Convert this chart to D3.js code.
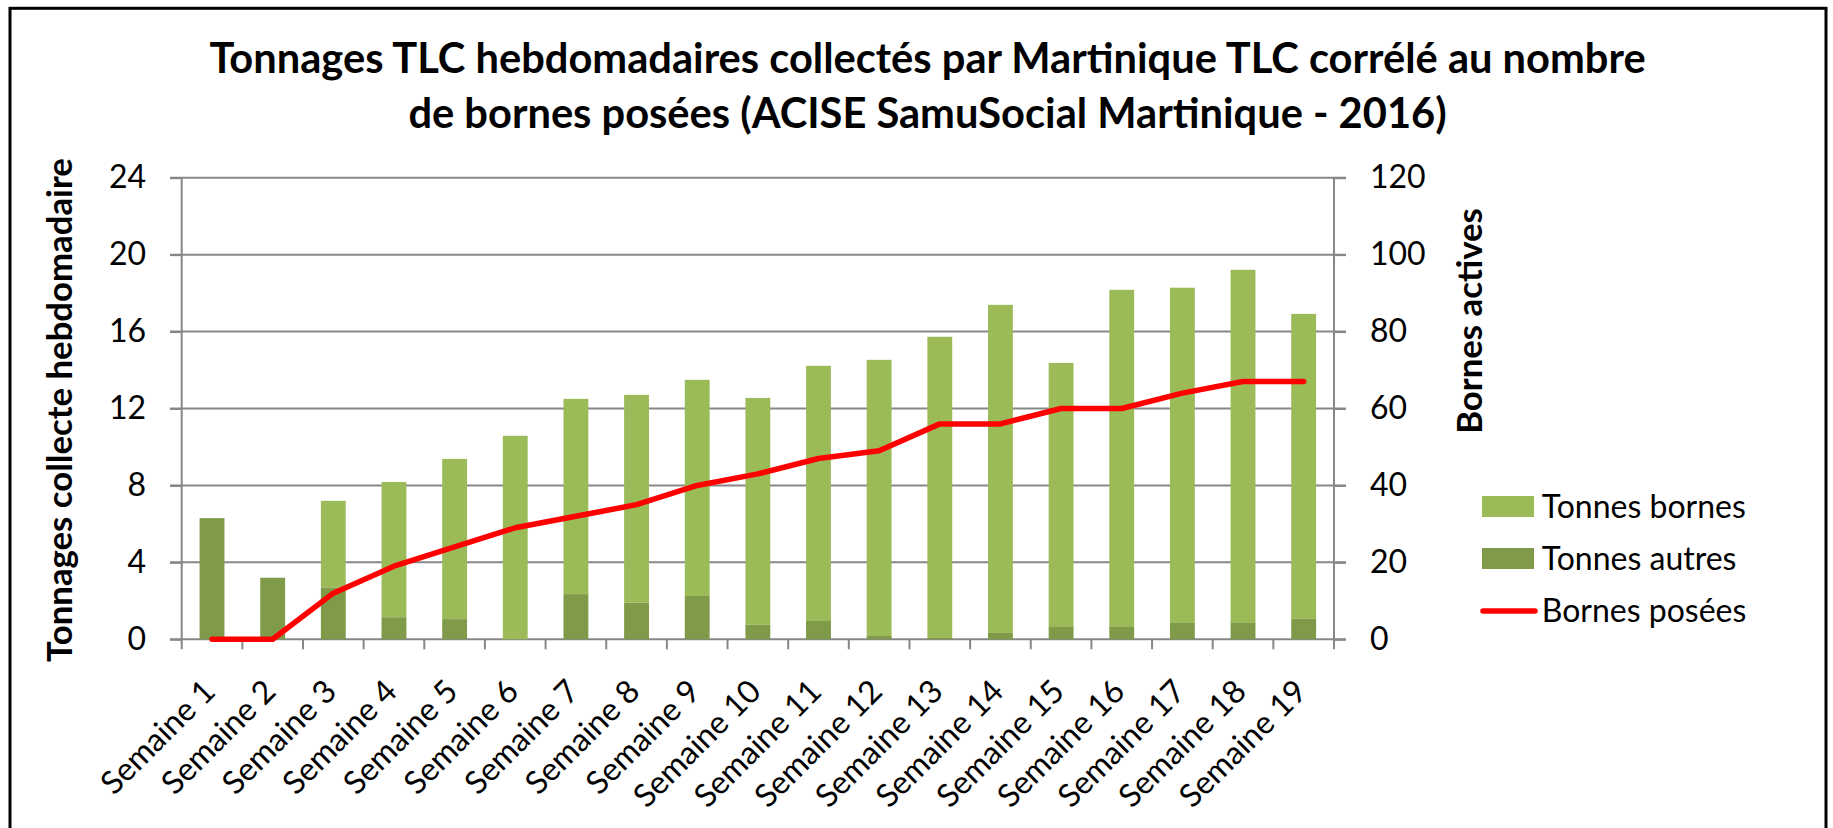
<!DOCTYPE html>
<html>
<head>
<meta charset="utf-8">
<script src="https://cdn.jsdelivr.net/npm/d3@7"></script>
<style>
  body { margin: 0; background: #fff; }
  svg { display: block; font-family: Lato, 'Open Sans', sans-serif; }
</style>
</head>
<body>
<div id="container"></div>
<script>
// data
const weeks = d3.range(1, 20).map(i => `Semaine ${i}`);
const tonnesAutres = [6.3, 3.2, 2.7, 1.15, 1.05, 0, 2.35, 1.9, 2.25, 0.75, 0.95, 0.17, 0.07, 0.33, 0.64, 0.64, 0.85, 0.85, 1.06];
const tonnesBornes = [0, 0, 4.5, 7.03, 8.33, 10.58, 10.15, 10.81, 11.24, 11.8, 13.27, 14.36, 15.66, 17.06, 13.73, 17.53, 17.43, 18.36, 15.86];
const bornesPosees = [0, 0, 12, 19, 24, 29, 32, 35, 40, 43, 47, 49, 56, 56, 60, 60, 64, 67, 67];
const leftTicks = [0, 4, 8, 12, 16, 20, 24];
const rightTicks = [0, 20, 40, 60, 80, 100, 120];
const legendItems = ['Tonnes bornes', 'Tonnes autres', 'Bornes posées'];
const titleLines = [
  'Tonnages TLC hebdomadaires collectés par Martinique TLC corrélé au nombre',
  'de bornes posées (ACISE SamuSocial Martinique - 2016)'
];

const width = 1833, height = 828;
const light = '#9bbb59', dark = '#7f9a48', red = '#ff0000', grid = '#878787';

const plot = {left: 181.7, right: 1334, top: 177.7, bottom: 639.3};

// scale font so a text takes a given width
function fit(sel, w) {
  const cur = sel.node().getComputedTextLength();
  const fs = parseFloat(sel.attr('font-size'));
  sel.attr('font-size', fs * w / cur);
}

const svg = d3.select('#container')
  .append('svg')
  .attr('width', width)
  .attr('height', height);

// frame
svg.append('rect')
  .attr('x', 10).attr('y', 8.3)
  .attr('width', 1816).attr('height', 840)
  .attr('fill', 'none')
  .attr('stroke', '#000')
  .attr('stroke-width', 3);

// scales
const x = d3.scaleBand()
  .domain(weeks)
  .range([plot.left, plot.right])
  .paddingInner(0.59)
  .paddingOuter(0.295);
const yL = d3.scaleLinear().domain([0, 24]).range([plot.bottom, plot.top]);
const yR = d3.scaleLinear().domain([0, 120]).range([plot.bottom, plot.top]);

// gridlines
svg.append('g')
  .selectAll('line')
  .data(leftTicks)
  .enter()
  .append('line')
  .attr('x1', plot.left - 11.7)
  .attr('x2', plot.right + 12)
  .attr('y1', d => yL(d))
  .attr('y2', d => yL(d))
  .attr('stroke', grid)
  .attr('stroke-width', 2);

// stacked bars
const stackData = weeks.map((w, i) => ({week: w, autres: tonnesAutres[i], bornes: tonnesBornes[i]}));
const series = d3.stack().keys(['autres', 'bornes'])(stackData);
const colors = {autres: dark, bornes: light};

svg.append('g')
  .selectAll('g')
  .data(series)
  .enter()
  .append('g')
  .attr('fill', d => colors[d.key])
  .selectAll('rect')
  .data(d => d)
  .enter()
  .append('rect')
  .attr('x', d => x(d.data.week))
  .attr('width', x.bandwidth())
  .attr('y', d => yL(d[1]))
  .attr('height', d => yL(d[0]) - yL(d[1]));

// left axis
const axL = svg.append('g')
  .attr('transform', `translate(${plot.left},0)`)
  .call(d3.axisLeft(yL).tickValues(leftTicks).tickSize(11.7).tickPadding(24));
// right axis
const axR = svg.append('g')
  .attr('transform', `translate(${plot.right},0)`)
  .call(d3.axisRight(yR).tickValues(rightTicks).tickSize(12).tickPadding(24));

[axL, axR].forEach(ax => {
  ax.select('.domain').remove();
  ax.selectAll('line').attr('stroke', grid).attr('stroke-width', 2);
  ax.selectAll('text')
    .attr('font-family', 'Lato')
    .attr('font-size', 32)
    .attr('fill', '#000');
});

// vertical axis lines
svg.append('g')
  .selectAll('line')
  .data([plot.left, plot.right])
  .enter()
  .append('line')
  .attr('x1', d => d).attr('x2', d => d)
  .attr('y1', plot.top).attr('y2', plot.bottom + 10)
  .attr('stroke', grid)
  .attr('stroke-width', 2);

// category ticks on x axis
const gap = (x.step() - x.bandwidth()) / 2;
svg.append('g')
  .selectAll('line')
  .data(weeks.slice(1))
  .enter()
  .append('line')
  .attr('x1', d => x(d) - gap).attr('x2', d => x(d) - gap)
  .attr('y1', plot.bottom).attr('y2', plot.bottom + 10)
  .attr('stroke', grid)
  .attr('stroke-width', 2);

// x labels
const axB = svg.append('g')
  .attr('transform', `translate(0,${plot.bottom})`)
  .call(d3.axisBottom(x).tickSize(0));
axB.select('.domain').remove();
axB.selectAll('text')
  .attr('font-family', 'Lato')
  .attr('font-size', 32)
  .attr('fill', '#000')
  .attr('text-anchor', 'end')
  .attr('dy', null)
  .attr('y', null)
  .attr('transform', 'translate(5,54) rotate(-45)');

// line
const line = d3.line()
  .x((d, i) => x(weeks[i]) + x.bandwidth() / 2)
  .y(d => yR(d));
svg.append('path')
  .datum(bornesPosees)
  .attr('d', line)
  .attr('fill', 'none')
  .attr('stroke', red)
  .attr('stroke-width', 5.5)
  .attr('stroke-linejoin', 'round')
  .attr('stroke-linecap', 'round');

// title
const title = svg.append('g')
  .attr('font-family', 'Lato')
  .attr('font-weight', 'bold')
  .attr('text-anchor', 'middle');
const t1 = title.append('text').attr('x', 927.5).attr('y', 73).attr('font-size', 40).text(titleLines[0]);
fit(t1, 1437);
const t2 = title.append('text').attr('x', 927.5).attr('y', 128).attr('font-size', t1.attr('font-size')).text(titleLines[1]);

// axis titles
const yt = svg.append('text')
  .attr('transform', 'translate(72,410) rotate(-90)')
  .attr('text-anchor', 'middle')
  .attr('font-family', 'Lato')
  .attr('font-weight', 'bold')
  .attr('font-size', 32)
  .text('Tonnages collecte hebdomadaire');
fit(yt, 504);

const yt2 = svg.append('text')
  .attr('transform', 'translate(1482,321) rotate(-90)')
  .attr('text-anchor', 'middle')
  .attr('font-family', 'Lato')
  .attr('font-weight', 'bold')
  .attr('font-size', yt.attr('font-size'))
  .text('Bornes actives');

// legend
const legend = svg.append('g').attr('transform', 'translate(1482,0)');
const rowY = [506.5, 558.5, 611];
legendItems.forEach((name, i) => {
  if (i < 2) {
    legend.append('rect')
      .attr('x', 0).attr('y', rowY[i] - 10.5)
      .attr('width', 52).attr('height', 21)
      .attr('fill', i == 0 ? light : dark);
  } else {
    legend.append('line')
      .attr('x1', 1).attr('x2', 53)
      .attr('y1', rowY[i]).attr('y2', rowY[i])
      .attr('stroke', red)
      .attr('stroke-width', 5.5)
      .attr('stroke-linecap', 'round');
  }
  legend.append('text')
    .attr('x', 59.7)
    .attr('y', rowY[i] + 11)
    .attr('font-family', 'Lato')
    .attr('font-size', 32)
    .text(name);
});
</script>
</body>
</html>
